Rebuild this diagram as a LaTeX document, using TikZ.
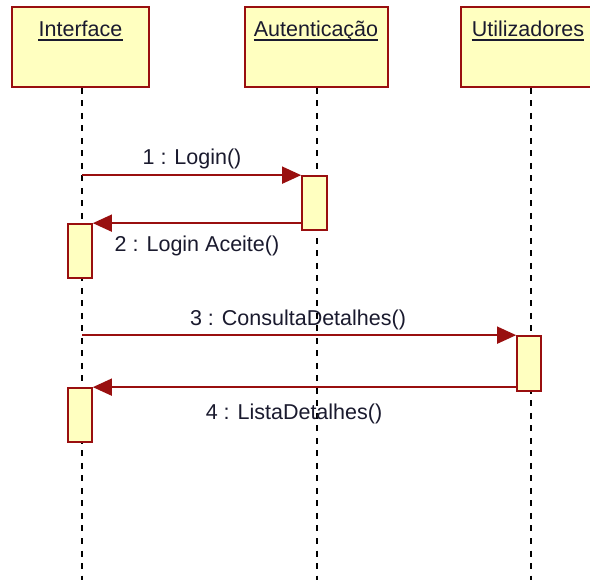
\documentclass[tikz,border=0pt]{standalone}
\usepackage{fontspec}
\setmainfont{Liberation Sans}
\usetikzlibrary{arrows.meta}
\definecolor{umlred}{HTML}{990F0F}
\definecolor{umlfill}{HTML}{FFFFC0}
\definecolor{umltext}{HTML}{1A1A2E}
\begin{document}
\begin{tikzpicture}[x=1pt,y=-1pt,
  objbox/.style={draw=umlred, fill=umlfill, line width=2pt, inner sep=0pt, minimum height=80pt},
  actbox/.style={draw=umlred, fill=umlfill, line width=1.7pt, inner sep=0pt, minimum width=24pt},
  lifeline/.style={draw=black, line width=2pt, dash pattern=on 6pt off 6.5pt},
  msg/.style={draw=umlred, line width=1.6pt, -{Triangle[length=19pt,width=17pt]}},
  lbl/.style={font=\fontsize{21.5}{24}\selectfont, text=umltext, inner sep=0pt, anchor=base},
  uline/.style={draw=umltext, line width=1.3pt},
]
\clip (0,0) rectangle (590,580);
\fill[white] (0,0) rectangle (590,580);
\coordinate (bottom) at (0,582);

% object boxes
\node[objbox, minimum width=137pt] (iface) at (80.5,47) {};
\node[objbox, minimum width=143pt] (auth)  at (316.5,47) {};
\node[objbox, minimum width=140pt] (users) at (531,47) {};

% object names, underlined
\node[lbl] (tiface) at (80.5,36.5) {Interface};
\node[lbl] (tauth)  at (316,36.5) {Autenticação};
\node[lbl] (tusers) at (528,36.5) {Utilizadores};
\foreach \t in {tiface,tauth,tusers}
  \draw[uline] ([yshift=-3.5pt]\t.base west) -- ([yshift=-3.5pt]\t.base east);

% lifelines
\coordinate (lifeI) at ([xshift=1.5pt]iface.south);
\coordinate (lifeA) at ([xshift=0.5pt]auth.south);
\coordinate (lifeU) at (users.south);
\draw[lifeline] (lifeI) -- (lifeI |- bottom);
\draw[lifeline] (lifeA) -- (lifeA |- bottom);
\draw[lifeline] (lifeU) -- (lifeU |- bottom);

% activation bars
\node[actbox, minimum width=25pt, minimum height=54pt] (a1) at (314.5,203) {};
\node[actbox, minimum height=54pt] (b1) at (80,251) {};
\node[actbox, minimum height=55pt] (c1) at (529,363.5) {};
\node[actbox, minimum height=54pt] (b2) at (80,415) {};

% messages
\draw[msg] (lifeI |- a1.north west) -- (a1.north west);
\draw[msg] (a1.west |- b1.north) -- (b1.north east);
\draw[msg] (lifeI |- c1.north west) -- (c1.north west);
\draw[msg] (c1.west |- b2.north) -- (b2.north east);

% message labels
\node[lbl] (m1) at (192,165) {1 : Login()};
\node[lbl] (m2) at (197,252) {2 : Login Aceite()};
\node[lbl] (m3) at (298,326) {3 : ConsultaDetalhes()};
\node[lbl] (m4) at (294,420) {4 : ListaDetalhes()};
\end{tikzpicture}
\end{document}
